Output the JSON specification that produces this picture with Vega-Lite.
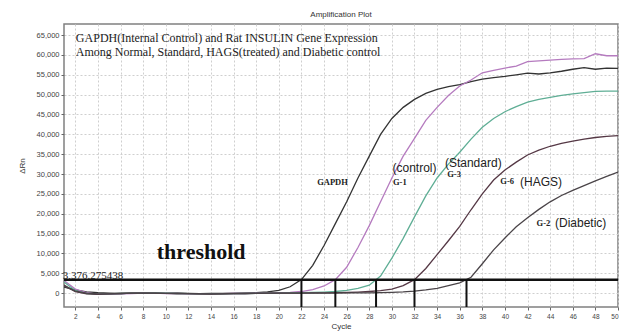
{
 "$schema": "https://vega.github.io/schema/vega-lite/v6.json",
 "width": 554,
 "height": 283,
 "autosize": "none",
 "padding": {"left": 64, "top": 24, "right": 4, "bottom": 25},
 "background": "white",
 "title": {"text": "Amplification Plot", "fontSize": 8, "fontWeight": "normal", "font": "Liberation Sans", "color": "#333333", "offset": 5},
 "config": {
  "view": {"stroke": "#808080", "strokeWidth": 1.5},
  "axis": {"gridColor": "#cfcfcf", "gridDash": [2, 2], "domain": false, "tickColor": "#666666", "tickSize": 3, "labelColor": "#444444", "labelFont": "Liberation Sans", "titleFont": "Liberation Sans", "titleFontWeight": "normal", "titleColor": "#333333", "labelOverlap": false}
 },
 "datasets": {
  "curves": [
   {"cycle":1,"series":"GAPDH","value":1500},{"cycle":2,"series":"GAPDH","value":800},{"cycle":3,"series":"GAPDH","value":300},{"cycle":4,"series":"GAPDH","value":100},{"cycle":5,"series":"GAPDH","value":0},{"cycle":6,"series":"GAPDH","value":-100},{"cycle":7,"series":"GAPDH","value":0},{"cycle":8,"series":"GAPDH","value":50},{"cycle":9,"series":"GAPDH","value":0},{"cycle":10,"series":"GAPDH","value":-50},
   {"cycle":11,"series":"GAPDH","value":0},{"cycle":12,"series":"GAPDH","value":-100},{"cycle":13,"series":"GAPDH","value":-150},{"cycle":14,"series":"GAPDH","value":-100},{"cycle":15,"series":"GAPDH","value":-50},{"cycle":16,"series":"GAPDH","value":0},{"cycle":17,"series":"GAPDH","value":0},{"cycle":18,"series":"GAPDH","value":100},{"cycle":19,"series":"GAPDH","value":300},{"cycle":20,"series":"GAPDH","value":700},
   {"cycle":21,"series":"GAPDH","value":1600},{"cycle":22,"series":"GAPDH","value":3400},{"cycle":23,"series":"GAPDH","value":7000},{"cycle":24,"series":"GAPDH","value":12000},{"cycle":25,"series":"GAPDH","value":17500},{"cycle":26,"series":"GAPDH","value":23000},{"cycle":27,"series":"GAPDH","value":29000},{"cycle":28,"series":"GAPDH","value":34500},{"cycle":29,"series":"GAPDH","value":40000},{"cycle":30,"series":"GAPDH","value":44000},
   {"cycle":31,"series":"GAPDH","value":46800},{"cycle":32,"series":"GAPDH","value":48800},{"cycle":33,"series":"GAPDH","value":50300},{"cycle":34,"series":"GAPDH","value":51300},{"cycle":35,"series":"GAPDH","value":52000},{"cycle":36,"series":"GAPDH","value":52500},{"cycle":37,"series":"GAPDH","value":53300},{"cycle":38,"series":"GAPDH","value":53900},{"cycle":39,"series":"GAPDH","value":54300},{"cycle":40,"series":"GAPDH","value":54600},
   {"cycle":41,"series":"GAPDH","value":55000},{"cycle":42,"series":"GAPDH","value":55400},{"cycle":43,"series":"GAPDH","value":55200},{"cycle":44,"series":"GAPDH","value":55500},{"cycle":45,"series":"GAPDH","value":55900},{"cycle":46,"series":"GAPDH","value":56400},{"cycle":47,"series":"GAPDH","value":56800},{"cycle":48,"series":"GAPDH","value":56400},{"cycle":49,"series":"GAPDH","value":56700},{"cycle":50,"series":"GAPDH","value":56600},

   {"cycle":1,"series":"G-1","value":3200},{"cycle":2,"series":"G-1","value":1000},{"cycle":3,"series":"G-1","value":100},{"cycle":4,"series":"G-1","value":-300},{"cycle":5,"series":"G-1","value":-300},{"cycle":6,"series":"G-1","value":-200},{"cycle":7,"series":"G-1","value":-100},{"cycle":8,"series":"G-1","value":0},{"cycle":9,"series":"G-1","value":0},{"cycle":10,"series":"G-1","value":-100},
   {"cycle":11,"series":"G-1","value":-100},{"cycle":12,"series":"G-1","value":-200},{"cycle":13,"series":"G-1","value":-200},{"cycle":14,"series":"G-1","value":-200},{"cycle":15,"series":"G-1","value":-150},{"cycle":16,"series":"G-1","value":-100},{"cycle":17,"series":"G-1","value":-100},{"cycle":18,"series":"G-1","value":0},{"cycle":19,"series":"G-1","value":0},{"cycle":20,"series":"G-1","value":100},
   {"cycle":21,"series":"G-1","value":200},{"cycle":22,"series":"G-1","value":400},{"cycle":23,"series":"G-1","value":900},{"cycle":24,"series":"G-1","value":1800},{"cycle":25,"series":"G-1","value":3400},{"cycle":26,"series":"G-1","value":6500},{"cycle":27,"series":"G-1","value":11500},{"cycle":28,"series":"G-1","value":17000},{"cycle":29,"series":"G-1","value":23000},{"cycle":30,"series":"G-1","value":29000},
   {"cycle":31,"series":"G-1","value":34500},{"cycle":32,"series":"G-1","value":39000},{"cycle":33,"series":"G-1","value":43500},{"cycle":34,"series":"G-1","value":46800},{"cycle":35,"series":"G-1","value":49800},{"cycle":36,"series":"G-1","value":52200},{"cycle":37,"series":"G-1","value":53700},{"cycle":38,"series":"G-1","value":55500},{"cycle":39,"series":"G-1","value":56100},{"cycle":40,"series":"G-1","value":56700},
   {"cycle":41,"series":"G-1","value":57200},{"cycle":42,"series":"G-1","value":58300},{"cycle":43,"series":"G-1","value":58500},{"cycle":44,"series":"G-1","value":58700},{"cycle":45,"series":"G-1","value":58900},{"cycle":46,"series":"G-1","value":59000},{"cycle":47,"series":"G-1","value":59100},{"cycle":48,"series":"G-1","value":60300},{"cycle":49,"series":"G-1","value":59800},{"cycle":50,"series":"G-1","value":59800},

   {"cycle":1,"series":"G-3","value":2800},{"cycle":2,"series":"G-3","value":600},{"cycle":3,"series":"G-3","value":-100},{"cycle":4,"series":"G-3","value":-300},{"cycle":5,"series":"G-3","value":-200},{"cycle":6,"series":"G-3","value":-100},{"cycle":7,"series":"G-3","value":0},{"cycle":8,"series":"G-3","value":0},{"cycle":9,"series":"G-3","value":50},{"cycle":10,"series":"G-3","value":0},
   {"cycle":11,"series":"G-3","value":-100},{"cycle":12,"series":"G-3","value":-150},{"cycle":13,"series":"G-3","value":-200},{"cycle":14,"series":"G-3","value":-200},{"cycle":15,"series":"G-3","value":-200},{"cycle":16,"series":"G-3","value":-150},{"cycle":17,"series":"G-3","value":-100},{"cycle":18,"series":"G-3","value":-50},{"cycle":19,"series":"G-3","value":0},{"cycle":20,"series":"G-3","value":0},
   {"cycle":21,"series":"G-3","value":50},{"cycle":22,"series":"G-3","value":100},{"cycle":23,"series":"G-3","value":150},{"cycle":24,"series":"G-3","value":250},{"cycle":25,"series":"G-3","value":400},{"cycle":26,"series":"G-3","value":700},{"cycle":27,"series":"G-3","value":1200},{"cycle":28,"series":"G-3","value":2000},{"cycle":29,"series":"G-3","value":4300},{"cycle":30,"series":"G-3","value":8800},
   {"cycle":31,"series":"G-3","value":13800},{"cycle":32,"series":"G-3","value":19200},{"cycle":33,"series":"G-3","value":24500},{"cycle":34,"series":"G-3","value":29000},{"cycle":35,"series":"G-3","value":32500},{"cycle":36,"series":"G-3","value":35500},{"cycle":37,"series":"G-3","value":38800},{"cycle":38,"series":"G-3","value":41800},{"cycle":39,"series":"G-3","value":44000},{"cycle":40,"series":"G-3","value":45700},
   {"cycle":41,"series":"G-3","value":47000},{"cycle":42,"series":"G-3","value":48100},{"cycle":43,"series":"G-3","value":48800},{"cycle":44,"series":"G-3","value":49300},{"cycle":45,"series":"G-3","value":49800},{"cycle":46,"series":"G-3","value":50200},{"cycle":47,"series":"G-3","value":50500},{"cycle":48,"series":"G-3","value":50800},{"cycle":49,"series":"G-3","value":50900},{"cycle":50,"series":"G-3","value":50900},

   {"cycle":1,"series":"G-6","value":2000},{"cycle":2,"series":"G-6","value":400},{"cycle":3,"series":"G-6","value":-200},{"cycle":4,"series":"G-6","value":-300},{"cycle":5,"series":"G-6","value":-200},{"cycle":6,"series":"G-6","value":-100},{"cycle":7,"series":"G-6","value":0},{"cycle":8,"series":"G-6","value":0},{"cycle":9,"series":"G-6","value":0},{"cycle":10,"series":"G-6","value":-50},
   {"cycle":11,"series":"G-6","value":-100},{"cycle":12,"series":"G-6","value":-150},{"cycle":13,"series":"G-6","value":-200},{"cycle":14,"series":"G-6","value":-250},{"cycle":15,"series":"G-6","value":-200},{"cycle":16,"series":"G-6","value":-150},{"cycle":17,"series":"G-6","value":-100},{"cycle":18,"series":"G-6","value":-50},{"cycle":19,"series":"G-6","value":0},{"cycle":20,"series":"G-6","value":0},
   {"cycle":21,"series":"G-6","value":0},{"cycle":22,"series":"G-6","value":0},{"cycle":23,"series":"G-6","value":50},{"cycle":24,"series":"G-6","value":50},{"cycle":25,"series":"G-6","value":100},{"cycle":26,"series":"G-6","value":150},{"cycle":27,"series":"G-6","value":250},{"cycle":28,"series":"G-6","value":400},{"cycle":29,"series":"G-6","value":600},{"cycle":30,"series":"G-6","value":1000},
   {"cycle":31,"series":"G-6","value":1900},{"cycle":32,"series":"G-6","value":3400},{"cycle":33,"series":"G-6","value":6200},{"cycle":34,"series":"G-6","value":9700},{"cycle":35,"series":"G-6","value":13200},{"cycle":36,"series":"G-6","value":16800},{"cycle":37,"series":"G-6","value":21000},{"cycle":38,"series":"G-6","value":25000},{"cycle":39,"series":"G-6","value":28500},{"cycle":40,"series":"G-6","value":31000},
   {"cycle":41,"series":"G-6","value":33000},{"cycle":42,"series":"G-6","value":34800},{"cycle":43,"series":"G-6","value":36000},{"cycle":44,"series":"G-6","value":37000},{"cycle":45,"series":"G-6","value":37700},{"cycle":46,"series":"G-6","value":38300},{"cycle":47,"series":"G-6","value":38800},{"cycle":48,"series":"G-6","value":39200},{"cycle":49,"series":"G-6","value":39500},{"cycle":50,"series":"G-6","value":39700},

   {"cycle":1,"series":"G-2","value":1800},{"cycle":2,"series":"G-2","value":500},{"cycle":3,"series":"G-2","value":0},{"cycle":4,"series":"G-2","value":-200},{"cycle":5,"series":"G-2","value":-200},{"cycle":6,"series":"G-2","value":-100},{"cycle":7,"series":"G-2","value":0},{"cycle":8,"series":"G-2","value":0},{"cycle":9,"series":"G-2","value":0},{"cycle":10,"series":"G-2","value":-50},
   {"cycle":11,"series":"G-2","value":-100},{"cycle":12,"series":"G-2","value":-150},{"cycle":13,"series":"G-2","value":-200},{"cycle":14,"series":"G-2","value":-200},{"cycle":15,"series":"G-2","value":-200},{"cycle":16,"series":"G-2","value":-150},{"cycle":17,"series":"G-2","value":-100},{"cycle":18,"series":"G-2","value":-50},{"cycle":19,"series":"G-2","value":0},{"cycle":20,"series":"G-2","value":0},
   {"cycle":21,"series":"G-2","value":0},{"cycle":22,"series":"G-2","value":0},{"cycle":23,"series":"G-2","value":0},{"cycle":24,"series":"G-2","value":0},{"cycle":25,"series":"G-2","value":0},{"cycle":26,"series":"G-2","value":50},{"cycle":27,"series":"G-2","value":50},{"cycle":28,"series":"G-2","value":50},{"cycle":29,"series":"G-2","value":100},{"cycle":30,"series":"G-2","value":200},
   {"cycle":31,"series":"G-2","value":300},{"cycle":32,"series":"G-2","value":500},{"cycle":33,"series":"G-2","value":800},{"cycle":34,"series":"G-2","value":1200},{"cycle":35,"series":"G-2","value":1900},{"cycle":36,"series":"G-2","value":2600},{"cycle":37,"series":"G-2","value":4000},{"cycle":38,"series":"G-2","value":7400},{"cycle":39,"series":"G-2","value":10900},{"cycle":40,"series":"G-2","value":13900},
   {"cycle":41,"series":"G-2","value":16700},{"cycle":42,"series":"G-2","value":19000},{"cycle":43,"series":"G-2","value":21100},{"cycle":44,"series":"G-2","value":23000},{"cycle":45,"series":"G-2","value":24600},{"cycle":46,"series":"G-2","value":25900},{"cycle":47,"series":"G-2","value":27100},{"cycle":48,"series":"G-2","value":28300},{"cycle":49,"series":"G-2","value":29400},{"cycle":50,"series":"G-2","value":30500}
  ],
  "threshold": [{"cycle": 1, "cycleEnd": 50, "value": 3376.275438}],
  "ct": [{"sample":"GAPDH","cycle":22,"value":3376.275438},{"sample":"G-1","cycle":25,"value":3376.275438},{"sample":"G-3","cycle":28.6,"value":3376.275438},{"sample":"G-6","cycle":32,"value":3376.275438},{"sample":"G-2","cycle":36.6,"value":3376.275438}],
  "geneLabels": [{"cycle":24.75,"value":28000,"text":"GAPDH"},{"cycle":30.7,"value":28000,"text":"G-1"},{"cycle":35.5,"value":30000,"text":"G-3"},{"cycle":40.2,"value":28200,"text":"G-6"},{"cycle":43.4,"value":17600,"text":"G-2"}],
  "groupLabels": [{"cycle":32,"value":31500,"text":"(control)"},{"cycle":37.2,"value":32700,"text":"(Standard)"},{"cycle":43.2,"value":28000,"text":"(HAGS)"},{"cycle":46.7,"value":17600,"text":"(Diabetic)"}],
  "heading": [{"cycle":2.05,"value":64230,"text":"GAPDH(Internal Control) and Rat INSULIN Gene Expression"},{"cycle":2.05,"value":60700,"text":"Among Normal, Standard, HAGS(treated) and Diabetic control"}]
 },
 "encoding": {
  "x": {"field": "cycle", "type": "quantitative", "scale": {"domain": [1, 50], "nice": false, "zero": false},
    "axis": {"values": [2,4,6,8,10,12,14,16,18,20,22,24,26,28,30,32,34,36,38,40,42,44,46,48,50], "format": "d", "title": "Cycle", "labelFontSize": 6.5, "titleFontSize": 8, "labelPadding": 3, "titlePadding": 3, "labelOverlap": false}},
  "y": {"field": "value", "type": "quantitative", "scale": {"domain": [-3500, 67800], "nice": false, "zero": false},
    "axis": {"values": [0,5000,10000,15000,20000,25000,30000,35000,40000,45000,50000,55000,60000,65000], "format": ",d", "title": "ΔRn", "labelFontSize": 7.5, "titleFontSize": 8, "titlePadding": 10, "labelOverlap": false}}
 },
 "layer": [
  {
   "data": {"name": "curves"},
   "mark": {"type": "line", "strokeWidth": 1.3, "clip": true},
   "encoding": {
    "color": {"field": "series", "type": "nominal", "legend": null,
      "scale": {"domain": ["GAPDH", "G-1", "G-3", "G-6", "G-2"], "range": ["#333333", "#b57bbf", "#5fae95", "#553845", "#4a4448"]}}
   }
  },
  {
   "data": {"name": "threshold"},
   "mark": {"type": "rule", "strokeWidth": 2.5, "color": "#111111"},
   "encoding": {"x2": {"field": "cycleEnd"}}
  },
  {
   "data": {"name": "ct"},
   "mark": {"type": "rule", "strokeWidth": 2, "color": "#111111"},
   "encoding": {"y2": {"datum": -3500}}
  },
  {
   "data": {"values": [{"cycle": 0.9, "value": 4300, "text": "3,376.275438"}]},
   "mark": {"type": "text", "align": "left", "baseline": "middle", "font": "Liberation Serif", "fontSize": 11, "color": "#222222"},
   "encoding": {"text": {"field": "text"}}
  },
  {
   "data": {"values": [{"cycle": 9.2, "value": 10300, "text": "threshold"}]},
   "mark": {"type": "text", "align": "left", "baseline": "middle", "font": "Liberation Serif", "fontSize": 22, "fontWeight": "bold", "color": "#111111"},
   "encoding": {"text": {"field": "text"}}
  },
  {
   "data": {"name": "heading"},
   "mark": {"type": "text", "align": "left", "baseline": "middle", "font": "Liberation Serif", "fontSize": 12, "color": "#222222"},
   "encoding": {"text": {"field": "text"}}
  },
  {
   "data": {"name": "geneLabels"},
   "mark": {"type": "text", "align": "center", "baseline": "middle", "font": "Liberation Serif", "fontSize": 8.5, "fontWeight": "bold", "color": "#222222"},
   "encoding": {"text": {"field": "text"}}
  },
  {
   "data": {"name": "groupLabels"},
   "mark": {"type": "text", "align": "center", "baseline": "middle", "font": "Liberation Sans", "fontSize": 12, "color": "#222222"},
   "encoding": {"text": {"field": "text"}}
  }
 ]
}
